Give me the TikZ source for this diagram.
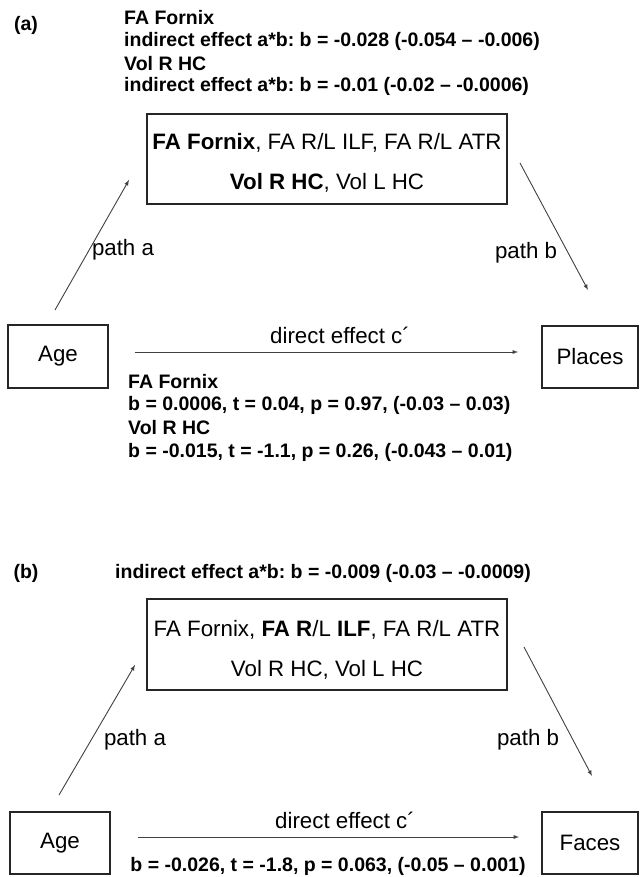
\documentclass[tikz,border=0pt]{standalone}
\usepackage{fontspec}
\setmainfont{Liberation Sans}
\frenchspacing
\usetikzlibrary{arrows}
\tikzset{bx/.append style={draw=black!85, line width=1.4pt, inner sep=0pt}}
\tikzset{rg/.append style={font=\fontsize{22.3}{40}\selectfont, inner sep=0pt, align=center}}
\tikzset{bd/.append style={font=\fontsize{19.5}{22}\selectfont\bfseries, inner sep=0pt}}
\tikzset{ar/.append style={->, >=latex, line width=0.9pt, draw=black!75}}

\begin{document}
\begin{tikzpicture}[x=1pt, y=-1pt]
                \useasboundingbox (0,0) rectangle (640,877);
                % (a) Places
                \node[bd] (pa) at (26,25) {(a)};
                \node[bd, anchor=west] (ia1) at (124,18) {FA Fornix};
                \node[bd, anchor=west] (ia2) at (124,41) {indirect effect a*b: b = -0.028 (-0.054 -- -0.006)};
                \node[bd, anchor=west] (ia3) at (124,64) {Vol R HC};
                \node[bd, anchor=west] (ia4) at (124,86) {indirect effect a*b: b = -0.01 (-0.02 -- -0.0006)};
                \node[bx, minimum width=360pt, minimum height=90pt] (ma) at (327,159) {};
                \node[rg] (ta) at (327,163) {\textbf{FA Fornix}, FA R/L ILF, FA R/L ATR\\\textbf{Vol R HC}, Vol L HC};
                \node[bx, rg, minimum width=100pt, minimum height=63pt] (agea) at (58,356.5) {Age};
                \node[bx, rg, minimum width=96pt, minimum height=62pt] (pl) at (590,357) {Places};
                \coordinate (a1) at (55,310);
                \coordinate (a2) at (129,180);
                \coordinate (b1) at (520,163);
                \coordinate (b2) at (588,290);
                \coordinate (c1) at (135,352);
                \coordinate (c2) at (518,352);
                \path (a1) edge[ar] (a2);
                \path (b1) edge[ar] (b2);
                \path (c1) edge[ar] (c2);
                \node[rg] (la) at (123,250) {path a};
                \node[rg] (lb) at (526,253) {path b};
                \node[rg] (lc) at (340,335) {direct effect c\textasciiacute};
                \node[bd, anchor=west] (da1) at (128,382) {FA Fornix};
                \node[bd, anchor=west] (da2) at (128,405) {b = 0.0006, t = 0.04, p = 0.97, (-0.03 -- 0.03)};
                \node[bd, anchor=west] (da3) at (128,428) {Vol R HC};
                \node[bd, anchor=west] (da4) at (128,452) {b = -0.015, t = -1.1, p = 0.26, (-0.043 -- 0.01)};
                % (b) Faces
                \node[bd] (pb) at (26,573) {(b)};
                \node[bd, anchor=west] (ib) at (115,573) {indirect effect a*b: b = -0.009 (-0.03 -- -0.0009)};
                \node[bx, minimum width=360pt, minimum height=91pt] (mb) at (327,644.5) {};
                \node[rg] (tb) at (327,650) {FA Fornix, \textbf{FA R}/L \textbf{ILF}, FA R/L ATR\\Vol R HC, Vol L HC};
                \node[bx, rg, minimum width=100pt, minimum height=62pt] (ageb) at (60,843) {Age};
                \node[bx, rg, minimum width=96pt, minimum height=62pt] (fc) at (590,843) {Faces};
                \coordinate (d1) at (59,795);
                \coordinate (d2) at (135,665);
                \coordinate (e1) at (524,647);
                \coordinate (e2) at (592,776);
                \coordinate (f1) at (138,837);
                \coordinate (f2) at (519,837);
                \path (d1) edge[ar] (d2);
                \path (e1) edge[ar] (e2);
                \path (f1) edge[ar] (f2);
                \node[rg] (ld) at (135,740) {path a};
                \node[rg] (le) at (528,740) {path b};
                \node[rg] (lf) at (345,820) {direct effect c\textasciiacute};
                \node[bd] (db) at (328,866) {b = -0.026, t = -1.8, p = 0.063, (-0.05 -- 0.001)};
            \end{tikzpicture}
\end{document}
